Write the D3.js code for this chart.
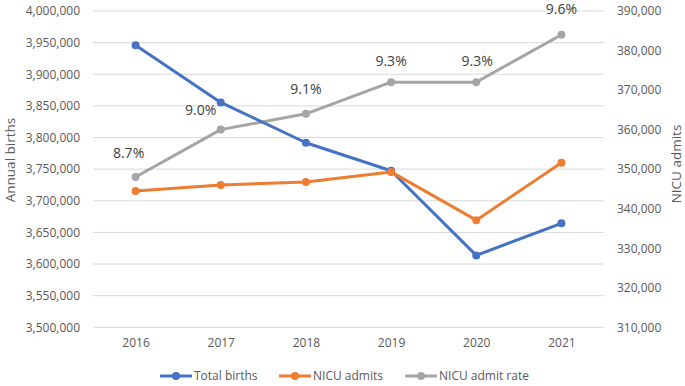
<!DOCTYPE html>
<html>
<head>
<meta charset="utf-8">
<script src="https://cdn.jsdelivr.net/npm/d3@7"></script>
<style>
  body { margin: 0; background: #fff; }
  svg text { font-family: "Open Sans", "Noto Sans", sans-serif; }
</style>
</head>
<body>
<div class="chart"></div>
<script>
// data
var years = ['2016', '2017', '2018', '2019', '2020', '2021']
var totalBirths = [3945875, 3855500, 3791712, 3747540, 3613647, 3664292]
var nicuAdmits = [344500, 346000, 346750, 349300, 337100, 351600]
var admitRate = [8.7, 9.0, 9.1, 9.3, 9.3, 9.6]
var rateLabels = ['8.7%', '9.0%', '9.1%', '9.3%', '9.3%', '9.6%']

var leftTicks = [3500000, 3550000, 3600000, 3650000, 3700000, 3750000, 3800000, 3850000, 3900000, 3950000, 4000000]
var rightTicks = [310000, 320000, 330000, 340000, 350000, 360000, 370000, 380000, 390000]
var legendNames = ['Total births', 'NICU admits', 'NICU admit rate']
var colors = ['#4472C4', '#ED7D31', '#A5A5A5']

var W = 685, H = 386
var plot = {left: 93, right: 604, top: 11, bottom: 327.3}

var svg = d3.select('.chart')
            .append('svg')
            .attr('width', W)
            .attr('height', H)

var x = d3.scalePoint()
          .domain(years)
          .range([plot.left, plot.right])
          .padding(0.5)

var yLeft = d3.scaleLinear()
              .domain([3500000, 4000000])
              .range([plot.bottom, plot.top])

var yRight = d3.scaleLinear()
               .domain([310000, 390000])
               .range([plot.bottom, plot.top])

// the rate line sits on its own hidden scale
var yRate = d3.scaleLinear()
              .domain([7.75, 9.75])
              .range([plot.bottom, plot.top])

var fmt = d3.format(',')

// gridlines
svg.append('g')
   .selectAll('line')
   .data(leftTicks)
   .enter()
   .append('line')
   .attr('x1', plot.left)
   .attr('x2', plot.right)
   .attr('y1', function(d){ return yLeft(d) })
   .attr('y2', function(d){ return yLeft(d) })
   .style('stroke', '#d9d9d9')
   .style('stroke-width', 1)

// left axis
var leftAxis = d3.axisLeft(yLeft).tickValues(leftTicks).tickFormat(fmt).tickSize(0).tickPadding(13)
var gl = svg.append('g')
   .attr('transform', 'translate(' + plot.left + ',0)')
   .call(leftAxis)
gl.select('.domain').remove()
gl.selectAll('text').style('font-size', '12px').style('fill', '#595959')
  .style('font-family', '"Open Sans", sans-serif')

// right axis
var rightAxis = d3.axisRight(yRight).tickValues(rightTicks).tickFormat(fmt).tickSize(0).tickPadding(13)
var gr = svg.append('g')
   .attr('transform', 'translate(' + plot.right + ',0)')
   .call(rightAxis)
gr.select('.domain').remove()
gr.selectAll('text').style('font-size', '12px').style('fill', '#595959')
  .style('font-family', '"Open Sans", sans-serif')

// x axis
var xAxis = d3.axisBottom(x).tickSize(0).tickPadding(11)
var gx = svg.append('g')
   .attr('transform', 'translate(0,' + plot.bottom + ')')
   .call(xAxis)
gx.select('.domain').remove()
gx.selectAll('text').style('font-size', '12px').style('fill', '#595959')
  .style('font-family', '"Open Sans", sans-serif')

// axis titles
svg.append('text')
   .attr('transform', 'translate(15,160) rotate(-90)')
   .attr('text-anchor', 'middle')
   .style('font-size', '13.5px')
   .style('fill', '#595959')
   .text('Annual births')

svg.append('text')
   .attr('transform', 'translate(681,164) rotate(-90)')
   .attr('text-anchor', 'middle')
   .style('font-size', '13.5px')
   .style('fill', '#595959')
   .text('NICU admits')

// series
var series = [
  {values: admitRate, y: yRate, color: colors[2]},
  {values: totalBirths, y: yLeft, color: colors[0]},
  {values: nicuAdmits, y: yRight, color: colors[1]}
]

series.forEach(function(s){
  var line = d3.line()
               .x(function(d, i){ return x(years[i]) })
               .y(function(d){ return s.y(d) })
  svg.append('path')
     .datum(s.values)
     .attr('d', line)
     .style('fill', 'none')
     .style('stroke', s.color)
     .style('stroke-width', 3)
     .style('stroke-linejoin', 'round')
  svg.append('g')
     .selectAll('circle')
     .data(s.values)
     .enter()
     .append('circle')
     .attr('cx', function(d, i){ return x(years[i]) })
     .attr('cy', function(d){ return s.y(d) })
     .attr('r', 4)
     .style('fill', s.color)
})

// rate labels
var labelDx = [-7, -20, 0, 0, 1, 0]
var labelDy = [-19, -15, -20, -16, -16, -21]
svg.append('g')
   .selectAll('text')
   .data(admitRate)
   .enter()
   .append('text')
   .attr('x', function(d, i){ return x(years[i]) + labelDx[i] })
   .attr('y', function(d, i){ return yRate(d) + labelDy[i] })
   .attr('text-anchor', 'middle')
   .style('font-size', '14px')
   .style('fill', '#404040')
   .text(function(d, i){ return rateLabels[i] })

// legend
var legendX = [160, 279, 405]
var leg = svg.append('g')
   .selectAll('g')
   .data(legendNames)
   .enter()
   .append('g')
   .attr('transform', function(d, i){ return 'translate(' + legendX[i] + ',376)' })

leg.append('line')
   .attr('x1', 0).attr('x2', 32)
   .style('stroke', function(d, i){ return colors[i] })
   .style('stroke-width', 3)
leg.append('circle')
   .attr('cx', 16)
   .attr('r', 4)
   .style('fill', function(d, i){ return colors[i] })
leg.append('text')
   .attr('x', 34)
   .attr('dy', '0.35em')
   .style('font-size', '12px')
   .style('fill', '#595959')
   .text(function(d){ return d })
</script>
</body>
</html>
